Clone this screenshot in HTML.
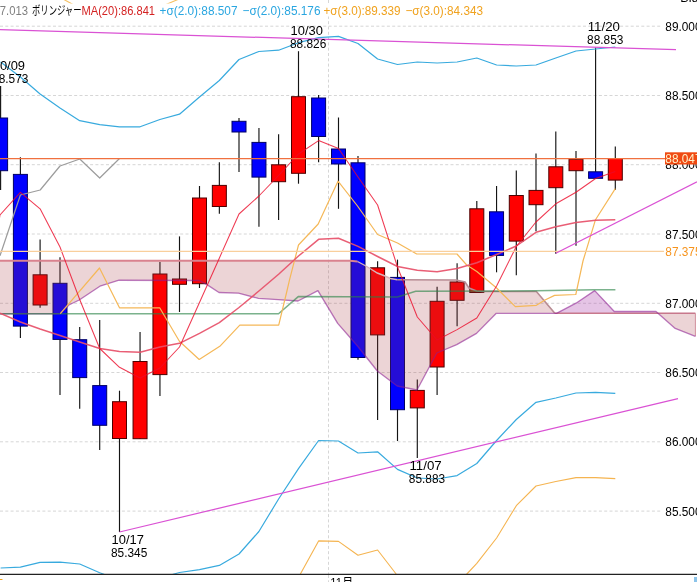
<!DOCTYPE html>
<html lang="ja"><head><meta charset="utf-8"><title>chart</title><style>html,body{margin:0;padding:0;background:#fff;overflow:hidden}</style></head><body>
<svg width="697" height="582" viewBox="0 0 697 582" style="display:block;font-family:'Liberation Sans','Noto Sans CJK JP',sans-serif">
<rect width="697" height="582" fill="#fff"/>
<g stroke="#d6d6d6" stroke-width="1" stroke-dasharray="3 2.3" fill="none">
<line x1="0" y1="26.2" x2="662.5" y2="26.2"/>
<line x1="0" y1="95.5" x2="662.5" y2="95.5"/>
<line x1="0" y1="164.7" x2="662.5" y2="164.7"/>
<line x1="0" y1="234.0" x2="662.5" y2="234.0"/>
<line x1="0" y1="303.3" x2="662.5" y2="303.3"/>
<line x1="0" y1="372.5" x2="662.5" y2="372.5"/>
<line x1="0" y1="441.8" x2="662.5" y2="441.8"/>
<line x1="0" y1="511.1" x2="662.5" y2="511.1"/>
<line x1="328.5" y1="0" x2="328.5" y2="582"/>
</g>
<g>
<line x1="0.60" y1="86.0" x2="0.60" y2="190.0" stroke="#141414" stroke-width="1.15"/>
<rect x="-6.40" y="118.0" width="14" height="52.7" fill="#0000ff" stroke="#000064" stroke-width="1"/>
<line x1="20.40" y1="157.3" x2="20.40" y2="338.0" stroke="#141414" stroke-width="1.15"/>
<rect x="13.40" y="174.4" width="14" height="151.7" fill="#0000ff" stroke="#000064" stroke-width="1"/>
<line x1="40.10" y1="239.6" x2="40.10" y2="307.8" stroke="#141414" stroke-width="1.15"/>
<rect x="33.10" y="274.8" width="14" height="30.2" fill="#ff0000" stroke="#4c0000" stroke-width="1"/>
<line x1="60.00" y1="257.2" x2="60.00" y2="395.0" stroke="#141414" stroke-width="1.15"/>
<rect x="53.00" y="283.3" width="14" height="56.1" fill="#0000ff" stroke="#000064" stroke-width="1"/>
<line x1="79.70" y1="327.0" x2="79.70" y2="408.7" stroke="#141414" stroke-width="1.15"/>
<rect x="72.70" y="339.7" width="14" height="37.9" fill="#0000ff" stroke="#000064" stroke-width="1"/>
<line x1="99.70" y1="320.0" x2="99.70" y2="450.0" stroke="#141414" stroke-width="1.15"/>
<rect x="92.70" y="385.6" width="14" height="39.7" fill="#0000ff" stroke="#000064" stroke-width="1"/>
<line x1="119.50" y1="390.7" x2="119.50" y2="532.0" stroke="#141414" stroke-width="1.15"/>
<rect x="112.50" y="401.7" width="14" height="36.8" fill="#ff0000" stroke="#4c0000" stroke-width="1"/>
<line x1="140.05" y1="332.0" x2="140.05" y2="439.0" stroke="#141414" stroke-width="1.15"/>
<rect x="133.05" y="361.5" width="14" height="77.2" fill="#ff0000" stroke="#4c0000" stroke-width="1"/>
<line x1="159.95" y1="262.0" x2="159.95" y2="396.0" stroke="#141414" stroke-width="1.15"/>
<rect x="152.95" y="274.0" width="14" height="100.6" fill="#ff0000" stroke="#4c0000" stroke-width="1"/>
<line x1="179.50" y1="236.4" x2="179.50" y2="312.0" stroke="#141414" stroke-width="1.15"/>
<rect x="172.50" y="279.0" width="14" height="5.3" fill="#ff0000" stroke="#4c0000" stroke-width="1"/>
<line x1="199.50" y1="186.0" x2="199.50" y2="288.0" stroke="#141414" stroke-width="1.15"/>
<rect x="192.50" y="198.0" width="14" height="85.7" fill="#ff0000" stroke="#4c0000" stroke-width="1"/>
<line x1="219.35" y1="162.3" x2="219.35" y2="213.8" stroke="#141414" stroke-width="1.15"/>
<rect x="212.35" y="185.4" width="14" height="21.1" fill="#ff0000" stroke="#4c0000" stroke-width="1"/>
<line x1="239.00" y1="118.0" x2="239.00" y2="172.0" stroke="#141414" stroke-width="1.15"/>
<rect x="232.00" y="121.3" width="14" height="10.7" fill="#0000ff" stroke="#000064" stroke-width="1"/>
<line x1="258.95" y1="128.0" x2="258.95" y2="226.8" stroke="#141414" stroke-width="1.15"/>
<rect x="251.95" y="142.4" width="14" height="34.7" fill="#0000ff" stroke="#000064" stroke-width="1"/>
<line x1="278.60" y1="134.3" x2="278.60" y2="220.0" stroke="#141414" stroke-width="1.15"/>
<rect x="271.60" y="164.8" width="14" height="16.9" fill="#ff0000" stroke="#4c0000" stroke-width="1"/>
<line x1="298.50" y1="51.2" x2="298.50" y2="183.7" stroke="#141414" stroke-width="1.15"/>
<rect x="291.50" y="96.7" width="14" height="76.6" fill="#ff0000" stroke="#4c0000" stroke-width="1"/>
<line x1="318.60" y1="95.0" x2="318.60" y2="162.3" stroke="#141414" stroke-width="1.15"/>
<rect x="311.60" y="98.0" width="14" height="38.5" fill="#0000ff" stroke="#000064" stroke-width="1"/>
<line x1="338.50" y1="117.5" x2="338.50" y2="208.8" stroke="#141414" stroke-width="1.15"/>
<rect x="331.50" y="149.0" width="14" height="15.0" fill="#0000ff" stroke="#000064" stroke-width="1"/>
<line x1="358.00" y1="156.0" x2="358.00" y2="359.8" stroke="#141414" stroke-width="1.15"/>
<rect x="351.00" y="162.8" width="14" height="194.7" fill="#0000ff" stroke="#000064" stroke-width="1"/>
<line x1="377.60" y1="261.3" x2="377.60" y2="420.0" stroke="#141414" stroke-width="1.15"/>
<rect x="370.60" y="267.8" width="14" height="67.1" fill="#ff0000" stroke="#4c0000" stroke-width="1"/>
<line x1="397.50" y1="259.6" x2="397.50" y2="441.0" stroke="#141414" stroke-width="1.15"/>
<rect x="390.50" y="277.4" width="14" height="132.3" fill="#0000ff" stroke="#000064" stroke-width="1"/>
<line x1="417.30" y1="379.4" x2="417.30" y2="458.0" stroke="#141414" stroke-width="1.15"/>
<rect x="410.30" y="390.4" width="14" height="17.5" fill="#ff0000" stroke="#4c0000" stroke-width="1"/>
<line x1="437.10" y1="286.7" x2="437.10" y2="395.0" stroke="#141414" stroke-width="1.15"/>
<rect x="430.10" y="301.3" width="14" height="65.7" fill="#ff0000" stroke="#4c0000" stroke-width="1"/>
<line x1="457.10" y1="263.3" x2="457.10" y2="326.3" stroke="#141414" stroke-width="1.15"/>
<rect x="450.10" y="282.0" width="14" height="18.3" fill="#ff0000" stroke="#4c0000" stroke-width="1"/>
<line x1="476.80" y1="201.0" x2="476.80" y2="292.8" stroke="#141414" stroke-width="1.15"/>
<rect x="469.80" y="208.8" width="14" height="83.7" fill="#ff0000" stroke="#4c0000" stroke-width="1"/>
<line x1="496.55" y1="186.0" x2="496.55" y2="272.3" stroke="#141414" stroke-width="1.15"/>
<rect x="489.55" y="211.8" width="14" height="43.6" fill="#0000ff" stroke="#000064" stroke-width="1"/>
<line x1="516.30" y1="170.4" x2="516.30" y2="275.3" stroke="#141414" stroke-width="1.15"/>
<rect x="509.30" y="195.5" width="14" height="45.6" fill="#ff0000" stroke="#4c0000" stroke-width="1"/>
<line x1="536.00" y1="153.5" x2="536.00" y2="231.3" stroke="#141414" stroke-width="1.15"/>
<rect x="529.00" y="190.4" width="14" height="14.3" fill="#ff0000" stroke="#4c0000" stroke-width="1"/>
<line x1="555.80" y1="131.6" x2="555.80" y2="253.8" stroke="#141414" stroke-width="1.15"/>
<rect x="548.80" y="166.8" width="14" height="20.9" fill="#ff0000" stroke="#4c0000" stroke-width="1"/>
<line x1="576.00" y1="151.0" x2="576.00" y2="245.8" stroke="#141414" stroke-width="1.15"/>
<rect x="569.00" y="159.3" width="14" height="11.4" fill="#ff0000" stroke="#4c0000" stroke-width="1"/>
<line x1="595.60" y1="47.6" x2="595.60" y2="178.6" stroke="#141414" stroke-width="1.15"/>
<rect x="588.60" y="171.8" width="14" height="6.5" fill="#0000ff" stroke="#000064" stroke-width="1"/>
<line x1="615.30" y1="146.5" x2="615.30" y2="190.0" stroke="#141414" stroke-width="1.15"/>
<rect x="608.30" y="158.5" width="14" height="21.6" fill="#ff0000" stroke="#4c0000" stroke-width="1"/>
</g>
<polygon points="0.0,260.8 350.0,260.8 357.5,261.5 365.0,265.5 370.0,268.5 377.3,273.0 385.0,276.0 390.4,278.5 397.2,279.7 456.0,280.0 465.0,282.0 469.0,288.0 476.5,291.0 484.0,291.5 536.4,291.5 554.8,313.3 556.5,313.3 496.3,313.3 476.5,333.4 456.7,344.7 436.8,353.0 417.0,390.0 397.2,386.0 377.3,371.0 357.5,346.0 337.7,323.4 317.9,290.6 298.0,301.0 278.2,299.7 258.4,298.3 238.5,293.2 219.0,292.5 207.0,284.6 199.0,280.5 119.0,280.2 99.9,286.2 79.2,300.0 68.9,305.0 60.3,313.7 0.0,313.7" fill="rgba(170,60,70,0.22)"/>
<polygon points="556.5,313.3 576.0,303.2 594.7,290.6 614.3,311.5 656.0,311.5 656.0,313.3 556.5,313.3" fill="rgba(170,60,170,0.30)"/>
<polygon points="656.0,313.3 695.4,313.3 695.4,336.3 675.2,328.4 656.0,311.5" fill="rgba(170,60,70,0.22)"/>
<polyline points="0.0,260.8 350.0,260.8 357.5,261.5" fill="none" stroke="#d9828f" stroke-width="2"/>
<polyline points="357.5,261.5 365.0,265.5 370.0,268.5 377.3,273.0 385.0,276.0 390.4,278.5 397.2,279.7" fill="none" stroke="#d8b4b8" stroke-width="1.4"/>
<polyline points="397.2,279.7 456.0,280.0 465.0,282.0 469.0,288.0 476.5,291.0 484.0,291.5 536.4,291.5 554.8,313.3" fill="none" stroke="#b88c94" stroke-width="1.6"/>
<polyline points="554.8,313.3 695.4,313.3" fill="none" stroke="#c8788c" stroke-width="1.6"/>
<line x1="695.4" y1="313.3" x2="695.4" y2="336.3" stroke="#d0909c" stroke-width="1"/>
<polyline points="0.0,313.7 60.3,313.7 68.9,305.0 79.2,300.0 99.9,286.2 119.0,280.2 199.0,280.5 207.0,284.6 219.0,292.5 238.5,293.2 258.4,298.3 278.2,299.7 298.0,301.0 317.9,290.6 337.7,323.4 357.5,346.0 377.3,371.0 397.2,386.0 417.0,390.0 436.8,353.0 456.7,344.7 476.5,333.4 496.3,313.3 556.5,313.3 576.0,303.2 594.7,290.6 614.3,311.5 656.0,311.5 675.2,328.4 695.4,336.3" fill="none" stroke="rgba(140,30,145,0.58)" stroke-width="1.35" stroke-linejoin="round"/>
<polyline points="0.0,313.8 278.5,313.8 298.3,296.6 397.5,297.0 415.7,291.2 536.0,290.8 594.0,289.7 615.4,289.7" fill="none" stroke="rgba(40,130,70,0.62)" stroke-width="1.5"/>
<g fill="none" stroke-linejoin="round" stroke-width="1.1">
<polyline points="0.6,62.0 20.4,77.0 40.1,94.0 60.0,108.0 79.7,120.7 99.7,124.6 119.5,126.8 140.1,126.8 159.9,119.5 179.5,114.2 199.5,97.0 219.3,80.5 239.0,59.5 258.9,51.5 278.6,50.2 298.5,42.7 318.6,37.7 338.5,36.4 358.0,43.5 377.6,59.0 397.5,64.5 417.3,62.0 437.1,63.0 457.1,62.0 476.8,58.0 496.6,65.0 516.3,66.0 536.0,65.0 555.8,58.0 576.0,51.0 595.6,49.0 615.3,47.0" stroke="#38aade" stroke-width="1.2"/>
<polyline points="0.6,568.0 20.4,567.2 40.1,562.3 60.0,562.2 79.7,564.0 99.7,572.7 119.5,580.0 140.1,582.0 159.9,578.0 179.5,572.5 199.5,569.7 219.3,565.4 239.0,554.0 258.9,531.5 278.6,499.0 298.5,468.7 318.6,440.5 338.5,441.0 358.0,453.0 377.6,451.8 397.5,469.4 417.3,478.0 437.1,479.0 457.1,475.6 476.8,463.5 496.6,440.5 516.3,419.5 536.0,402.3 555.8,398.0 576.0,393.0 595.6,392.3 615.3,393.3" stroke="#38aade" stroke-width="1.2"/>
<polyline points="299.3,576.0 318.6,540.9 338.5,541.4 358.0,555.2 377.6,550.0 397.7,576.0" stroke="#f5b450"/>
<polyline points="465.0,576.0 476.8,563.4 496.6,538.0 516.3,505.7 536.0,486.0 555.8,481.5 576.0,477.6 595.6,477.6 615.3,478.6" stroke="#f5b450"/>
<polyline points="63,-1 73,4.5" stroke="#f5c060"/>
<polyline points="166,4.5 179,-1" stroke="#f5c060"/>
<polyline points="60.3,313.7 99.5,268.0 119.5,307.8 159.7,307.8 179.4,341.2 199.2,359.5 219.8,346.3 239.8,325.1 278.7,325.1 286.7,292.0 289.4,280.3 298.5,245.0 318.2,224.0 338.0,181.2 357.5,206.0 377.6,234.5 397.5,243.0 416.7,254.0 457.0,254.0 466.7,265.0 476.8,271.5 496.6,288.0 515.3,306.6 536.4,305.3 545.0,300.0 554.6,295.4 575.8,294.5 583.0,261.0 595.5,219.7 615.3,188.6" stroke="#f5b858" stroke-width="1.2"/>
<polyline points="0.0,255.7 20.4,195.0 40.2,190.0 60.0,166.0 79.8,159.0 99.7,178.0 119.5,158.5" stroke="#9c9c9c" stroke-width="1.2"/>
<polyline points="0.0,313.3 20.4,322.0 40.1,329.0 60.0,335.5 79.7,342.0 99.7,348.5 119.5,351.5 140.1,352.3 159.9,347.0 179.5,343.3 199.5,333.4 219.3,322.7 239.0,307.5 258.9,291.0 278.6,274.2 298.5,256.0 318.6,239.3 338.5,238.2 358.0,246.4 377.6,256.5 397.5,266.5 417.3,270.3 437.1,271.7 457.1,268.5 476.8,262.7 496.6,254.5 516.3,246.0 536.0,232.3 555.8,226.7 576.0,222.4 595.6,220.2 615.3,219.7" stroke="rgba(231,80,105,0.92)" stroke-width="1.5"/>
<polyline points="-3.0,232.0 0.0,215.0 20.4,192.4 40.1,208.8 60.0,247.0 79.7,299.5 99.7,348.5 119.5,367.3 140.1,378.0 159.9,368.0 179.5,347.0 199.5,302.5 219.3,258.2 239.0,214.0 258.9,196.0 278.6,175.5 298.5,154.0 318.6,140.6 338.5,148.5 358.0,177.0 377.6,205.0 397.5,267.0 417.3,317.0 437.1,340.0 457.1,329.6 476.8,318.0 496.6,286.0 516.3,246.5 536.0,222.0 555.8,203.8 576.0,192.3 595.6,178.5 615.3,171.5" stroke="rgba(235,10,40,0.8)" stroke-width="1.05"/>
</g>
<line x1="0" y1="158.6" x2="665" y2="158.6" stroke="#f0703f" stroke-width="1.3"/>
<line x1="0" y1="251.4" x2="664" y2="251.4" stroke="#f9cf9c" stroke-width="1.2"/>
<g stroke="#da52d4" stroke-width="1.25" fill="none">
<line x1="0" y1="29.7" x2="676" y2="49.7"/>
<line x1="119.5" y1="532" x2="678" y2="398.6"/>
<line x1="555.8" y1="253.3" x2="697" y2="181.9"/>
</g>
<rect x="0" y="574.9" width="697" height="8" fill="#fff"/>
<line x1="328.5" y1="575" x2="328.5" y2="582" stroke="#d6d6d6" stroke-dasharray="3 2.3"/>
<line x1="0" y1="574.3" x2="697" y2="574.3" stroke="#222" stroke-width="1.3"/>
<rect x="0" y="3.5" width="484" height="13" fill="#fff"/>
<text x="-6.5" y="15.0" fill="#808080" font-size="12.5" textLength="34.5" lengthAdjust="spacingAndGlyphs">87.013</text>
<text x="32.0" y="14.6" fill="#000" font-size="12.0" textLength="49.5" lengthAdjust="spacingAndGlyphs">ボリンジャー</text>
<text x="81.5" y="15.0" fill="#d42222" font-size="12.5" textLength="73.5" lengthAdjust="spacingAndGlyphs">MA(20):86.841</text>
<text x="159.5" y="15.0" fill="#2aa6e0" font-size="12.5" textLength="78.0" lengthAdjust="spacingAndGlyphs">+σ(2.0):88.507</text>
<text x="242.5" y="15.0" fill="#2aa6e0" font-size="12.5" textLength="78.0" lengthAdjust="spacingAndGlyphs">−σ(2.0):85.176</text>
<text x="323.5" y="15.0" fill="#f0a21e" font-size="12.5" textLength="77.0" lengthAdjust="spacingAndGlyphs">+σ(3.0):89.339</text>
<text x="405.5" y="15.0" fill="#f0a21e" font-size="12.5" textLength="77.5" lengthAdjust="spacingAndGlyphs">−σ(3.0):84.343</text>
<text x="665.3" y="30.8" fill="#000" font-size="12.5" textLength="36.2" lengthAdjust="spacingAndGlyphs">89.000</text>
<text x="665.3" y="100.1" fill="#000" font-size="12.5" textLength="36.2" lengthAdjust="spacingAndGlyphs">88.500</text>
<text x="665.3" y="169.3" fill="#000" font-size="12.5" textLength="36.2" lengthAdjust="spacingAndGlyphs">88.000</text>
<text x="665.3" y="238.6" fill="#000" font-size="12.5" textLength="36.2" lengthAdjust="spacingAndGlyphs">87.500</text>
<text x="665.3" y="307.9" fill="#000" font-size="12.5" textLength="36.2" lengthAdjust="spacingAndGlyphs">87.000</text>
<text x="665.3" y="377.1" fill="#000" font-size="12.5" textLength="36.2" lengthAdjust="spacingAndGlyphs">86.500</text>
<text x="665.3" y="446.4" fill="#000" font-size="12.5" textLength="36.2" lengthAdjust="spacingAndGlyphs">86.000</text>
<text x="665.3" y="515.7" fill="#000" font-size="12.5" textLength="36.2" lengthAdjust="spacingAndGlyphs">85.500</text>
<text x="665.3" y="256.0" fill="#f7941d" font-size="12.5" textLength="36.2" lengthAdjust="spacingAndGlyphs">87.375</text>
<rect x="665" y="152.3" width="33" height="12.2" fill="#f04a12"/>
<text x="665.3" y="163.0" fill="#fff0c8" font-size="12.5" textLength="36.2" lengthAdjust="spacingAndGlyphs">88.047</text>
<text x="680.3" y="2.0" fill="#000" font-size="12.5">Bid</text>
<text x="-7.3" y="70.0" fill="#000" font-size="12.5" textLength="32.3" lengthAdjust="spacingAndGlyphs">10/09</text>
<text x="-7.9" y="83.0" fill="#000" font-size="12.5" textLength="36.3" lengthAdjust="spacingAndGlyphs">88.573</text>
<text x="290.6" y="35.0" fill="#000" font-size="12.5" textLength="32.3" lengthAdjust="spacingAndGlyphs">10/30</text>
<text x="290.0" y="48.0" fill="#000" font-size="12.5" textLength="36.3" lengthAdjust="spacingAndGlyphs">88.826</text>
<text x="587.7" y="31.0" fill="#000" font-size="12.5" textLength="32.3" lengthAdjust="spacingAndGlyphs">11/20</text>
<text x="587.1" y="44.0" fill="#000" font-size="12.5" textLength="36.3" lengthAdjust="spacingAndGlyphs">88.853</text>
<text x="111.6" y="544.2" fill="#000" font-size="12.5" textLength="32.3" lengthAdjust="spacingAndGlyphs">10/17</text>
<text x="111.0" y="557.2" fill="#000" font-size="12.5" textLength="36.3" lengthAdjust="spacingAndGlyphs">85.345</text>
<text x="409.4" y="469.8" fill="#000" font-size="12.5" textLength="32.3" lengthAdjust="spacingAndGlyphs">11/07</text>
<text x="408.8" y="482.8" fill="#000" font-size="12.5" textLength="36.3" lengthAdjust="spacingAndGlyphs">85.883</text>
<text x="330.3" y="586.7" fill="#000" font-size="12.5" textLength="23.0" lengthAdjust="spacingAndGlyphs">11月</text>
<text x="-3.5" y="587.6" fill="#f0a21e" font-size="12.5">5</text>
<rect x="694" y="577" width="3" height="5" fill="#8cc4ea"/>
</svg>
</body></html>
